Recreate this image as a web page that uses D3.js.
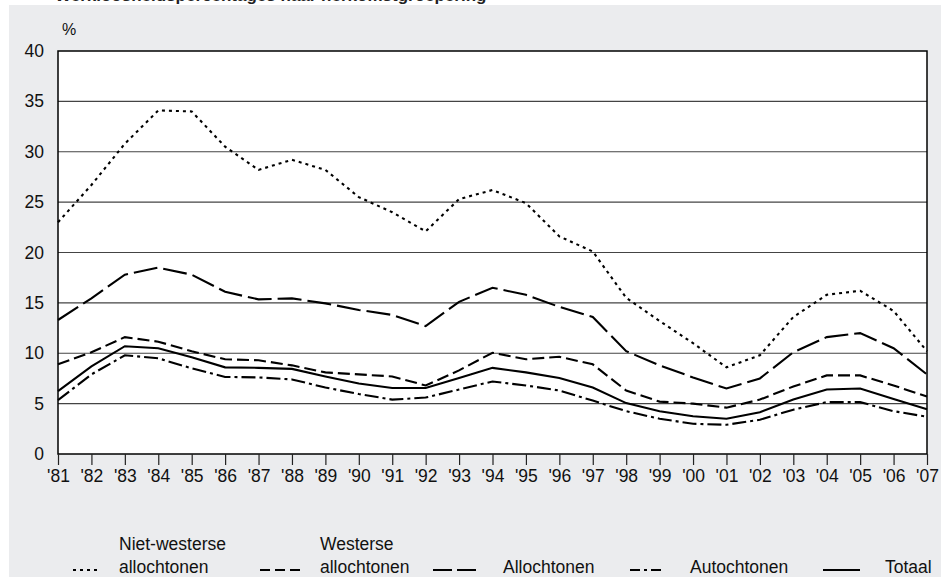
<!DOCTYPE html>
<html>
<head>
<meta charset="utf-8">
<script src="https://cdn.jsdelivr.net/npm/d3@7"></script>
<style>
  body { margin: 0; background: #fff; }
  svg { display: block; font-family: "Liberation Sans", Arial, sans-serif; }
</style>
</head>
<body>
<svg id="chart"></svg>
<script>
// Data
var years = ["'81","'82","'83","'84","'85","'86","'87","'88","'89","'90","'91","'92","'93","'94",
             "'95","'96","'97","'98","'99","'00","'01","'02","'03","'04","'05","'06","'07"];

var nietWesters = [23.0, 26.7, 30.8, 34.1, 34.0, 30.5, 28.2, 29.2, 28.2, 25.5, 24.0, 22.1, 25.3, 26.2,
                   24.9, 21.6, 20.1, 15.5, 13.2, 11.0, 8.6, 9.8, 13.6, 15.8, 16.2, 14.2, 10.2];
var westers     = [8.9, 10.1, 11.6, 11.15, 10.2, 9.4, 9.3, 8.8, 8.1, 7.9, 7.7, 6.8, 8.3, 10.05,
                   9.4, 9.65, 8.9, 6.3, 5.2, 5.0, 4.6, 5.4, 6.7, 7.8, 7.8, 6.8, 5.7];
var allochtoon  = [13.3, 15.45, 17.8, 18.5, 17.8, 16.1, 15.35, 15.45, 14.95, 14.3, 13.8, 12.7, 15.1, 16.5,
                   15.8, 14.6, 13.6, 10.2, 8.8, 7.6, 6.5, 7.5, 10.1, 11.6, 12.0, 10.5, 7.9];
var autochtoon  = [5.35, 7.9, 9.8, 9.5, 8.5, 7.65, 7.6, 7.4, 6.6, 5.95, 5.4, 5.6, 6.4, 7.2,
                   6.8, 6.3, 5.3, 4.25, 3.5, 3.0, 2.9, 3.4, 4.4, 5.15, 5.15, 4.25, 3.7];
var totaal      = [6.25, 8.7, 10.7, 10.5, 9.6, 8.6, 8.55, 8.45, 7.7, 7.0, 6.55, 6.55, 7.55, 8.55,
                   8.1, 7.55, 6.6, 5.05, 4.25, 3.75, 3.5, 4.15, 5.4, 6.4, 6.5, 5.45, 4.45];

var yTicks = [0, 5, 10, 15, 20, 25, 30, 35, 40];

var series = [
    { name: ["Niet-westerse", "allochtonen"], values: nietWesters, dash: "3,4",        legendDash: "3,4" },
    { name: ["Westerse", "allochtonen"],      values: westers,     dash: "12,5",       legendDash: "10,5" },
    { name: ["Allochtonen"],                  values: allochtoon,  dash: "24,6",       legendDash: "19,5" },
    { name: ["Autochtonen"],                  values: autochtoon,  dash: "14,4,3,4",   legendDash: "10,4,3,4" },
    { name: ["Totaal"],                       values: totaal,      dash: null,         legendDash: null }
];

// legend positions (sample start, text start)
var legendX = [[73, 119], [260, 320], [433, 503], [630, 690], [823, 885]];

var width = 941, height = 577;
var margin = { top: 51, right: 14, bottom: 123, left: 58 };

var svg = d3.select("#chart")
    .attr("width", width)
    .attr("height", height);

// grey panel
svg.append("rect")
    .attr("x", 9).attr("y", 5)
    .attr("width", width - 9).attr("height", height - 5)
    .attr("fill", "#ebecee");

// title, mostly cut off at top
svg.append("text")
    .attr("x", 55).attr("y", 1)
    .style("font-size", "17px")
    .style("font-weight", "bold")
    .attr("fill", "#222")
    .text("Werkloosheidspercentages naar herkomstgroepering");

var x = d3.scalePoint()
    .domain(years)
    .range([margin.left, width - margin.right]);

var y = d3.scaleLinear()
    .domain([0, 40])
    .range([height - margin.bottom, margin.top]);

// plot area
svg.append("rect")
    .attr("x", margin.left).attr("y", margin.top)
    .attr("width", width - margin.right - margin.left)
    .attr("height", y(0) - y(40))
    .attr("fill", "#fff");

// gridlines
svg.append("g")
    .selectAll("line")
    .data(yTicks.slice(1, -1))
    .enter().append("line")
    .attr("x1", margin.left).attr("x2", width - margin.right)
    .attr("y1", function(d) { return y(d); })
    .attr("y2", function(d) { return y(d); })
    .attr("stroke", "#444")
    .attr("stroke-width", 1.2);

// frame
svg.append("rect")
    .attr("x", margin.left).attr("y", y(40))
    .attr("width", width - margin.right - margin.left)
    .attr("height", y(0) - y(40))
    .attr("fill", "none")
    .attr("stroke", "#000")
    .attr("stroke-width", 1.5);

// y axis labels
var yAxis = svg.append("g")
    .attr("transform", "translate(" + margin.left + ",0)")
    .call(d3.axisLeft(y).tickValues(yTicks).tickSize(0).tickPadding(14));
yAxis.select(".domain").remove();
yAxis.selectAll("text")
    .style("font-size", "17.5px")
    .attr("fill", "#111");

svg.append("text")
    .attr("x", 62).attr("y", 35)
    .style("font-size", "16px")
    .attr("fill", "#111")
    .text("%");

// x axis
var xAxis = svg.append("g")
    .attr("transform", "translate(0," + y(0) + ")")
    .call(d3.axisBottom(x).tickSize(11).tickPadding(5));
xAxis.select(".domain").remove();
xAxis.selectAll("line").attr("stroke", "#222").attr("stroke-width", 1.2);
xAxis.selectAll("text")
    .style("font-size", "17.5px")
    .attr("fill", "#111");

// lines
var line = d3.line()
    .x(function(d, i) { return x(years[i]); })
    .y(function(d) { return y(d); });

svg.append("g")
    .selectAll("path")
    .data(series)
    .enter().append("path")
    .attr("d", function(d) { return line(d.values); })
    .attr("fill", "none")
    .attr("stroke", "#000")
    .attr("stroke-width", 2.1)
    .attr("stroke-dasharray", function(d) { return d.dash; });

// legend
var legend = svg.append("g")
    .selectAll("g")
    .data(series)
    .enter().append("g");

legend.append("line")
    .attr("x1", function(d, i) { return legendX[i][0]; })
    .attr("x2", function(d, i) { return legendX[i][1] - (i == 0 ? 22 : i == 1 ? 20 : 25); })
    .attr("y1", 570).attr("y2", 570)
    .attr("stroke", "#000")
    .attr("stroke-width", 2)
    .attr("stroke-dasharray", function(d) { return d.legendDash; });

legend.each(function(d, i) {
    var g = d3.select(this);
    var lines = d.name;
    lines.forEach(function(t, j) {
        g.append("text")
            .attr("x", legendX[i][1])
            .attr("y", 573 - (lines.length - 1 - j) * 23)
            .style("font-size", "17.5px")
            .attr("fill", "#111")
            .text(t);
    });
});
</script>
</body>
</html>
